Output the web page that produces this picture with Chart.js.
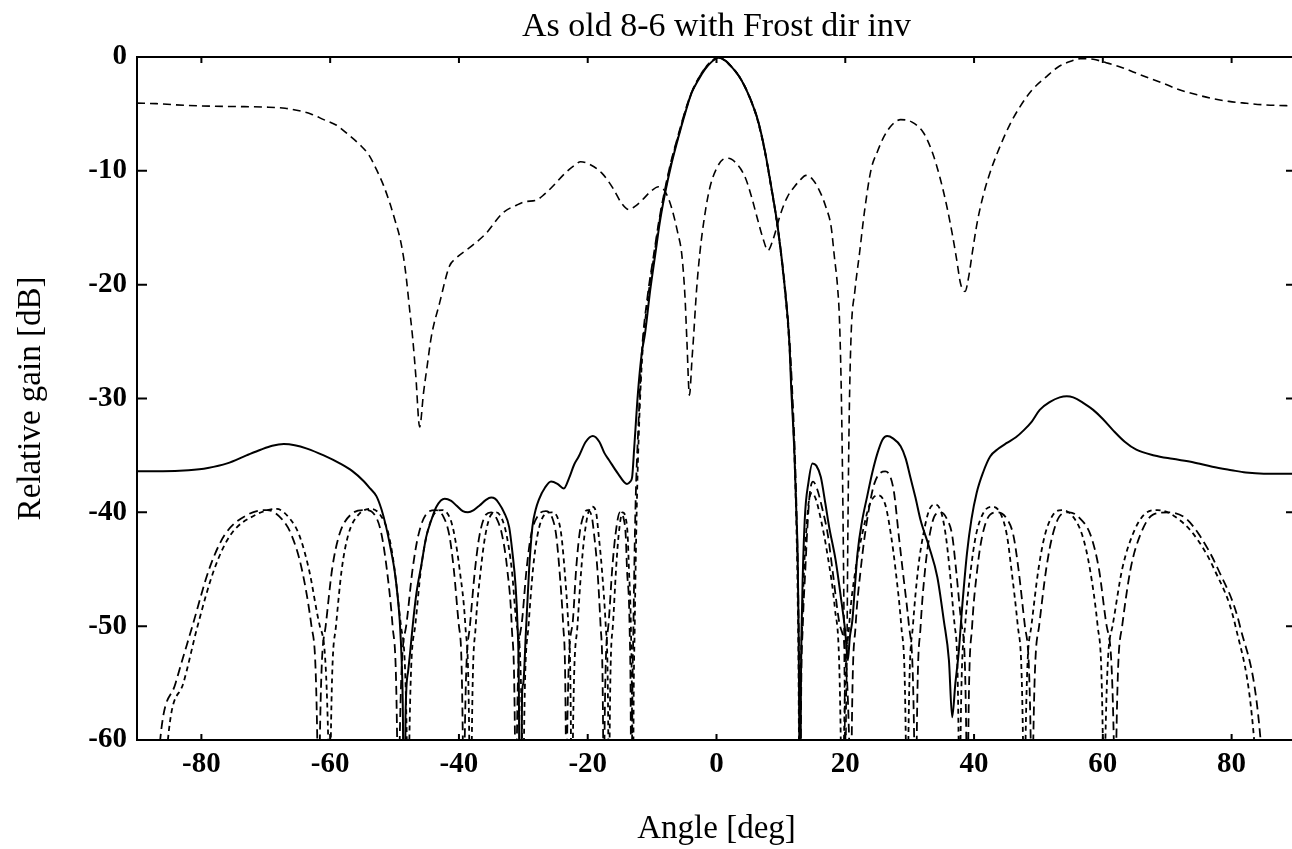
<!DOCTYPE html>
<html>
<head>
<meta charset="utf-8">
<script src="https://cdn.jsdelivr.net/npm/chart.js@4.4.0/dist/chart.umd.min.js"></script>
<style>
  html, body { margin: 0; padding: 0; background: #fff; overflow: hidden; }
  #wrap { width: 1310px; height: 849px; }
</style>
</head>
<body>
<div id="wrap"><canvas id="chart" width="1310" height="849"></canvas></div>
<script>
const xTicks = [-80, -60, -40, -20, 0, 20, 40, 60, 80];
const yTicks = [0, -10, -20, -30, -40, -50, -60];

// adapted pattern (solid)
const gainAdapted = [
  [-90,-36.4],[-86,-36.4],[-82,-36.3],[-79,-36.1],[-76,-35.7],[-73,-35.0],[-70.8,-34.5],[-69,-34.15],[-67.2,-34.0],
  [-65.5,-34.1],[-63.6,-34.4],[-61,-35.0],[-58.5,-35.7],[-56.5,-36.4],[-54.9,-37.2],[-53.8,-37.9],[-52.8,-38.6],
  [-52,-39.8],[-51.3,-41.3],[-50.6,-43.2],[-50.0,-45.1],[-49.5,-47.5],[-49.2,-49.5],[-48.9,-53],[-48.7,-58],[-48.5,-75],
  [-48.3,-58],[-47.9,-54],[-47.6,-52.4],[-47.1,-49.5],[-46.6,-47.1],[-45.8,-44.5],[-45.1,-42.2],[-44.3,-40.7],
  [-43.5,-39.5],[-42.2,-38.8],[-41.2,-39.0],[-40.4,-39.4],[-39.4,-39.9],[-38.6,-40.0],[-37.7,-39.8],[-36.8,-39.4],
  [-35.8,-38.9],[-35.0,-38.7],[-34.4,-38.8],[-33.8,-39.2],[-33.0,-40.0],[-32.2,-41.3],[-31.7,-43.5],[-31.2,-46.5],
  [-30.9,-50],[-30.7,-55],[-30.5,-75],[-30.2,-56],[-30.0,-55],[-29.6,-50.5],[-29.1,-45],[-28.6,-41.3],[-28.1,-39.8],
  [-27.6,-38.9],[-26.6,-37.8],[-25.7,-37.3],[-24.7,-37.5],[-23.7,-37.9],[-22.9,-37.0],[-22.1,-35.8],[-21.4,-35.1],
  [-20.3,-33.8],[-19.2,-33.3],[-18.2,-33.8],[-17.4,-34.8],[-16.7,-35.4],[-15.3,-36.6],[-13.9,-37.5],[-13.4,-37.3],
  [-13.1,-36.9],[-12.8,-34.5],[-12.6,-32.8],[-12.2,-29.5],[-11.6,-26.0],[-11.1,-24.3],[-10.3,-20.5],[-9.5,-17.3],
  [-8.8,-14.5],[-8.0,-12.0],[-7.0,-9.4],[-5.9,-7.0],[-4.9,-5.0],[-3.9,-3.2],[-2.8,-2.0],[-1.8,-1.1],[-0.8,-0.45],
  [0.3,-0.05],[1.3,-0.3],[2.3,-0.85],[3.4,-1.6],[4.4,-2.6],[5.4,-3.9],[6.4,-5.5],[7.5,-8.2],[8.5,-11.4],[9.5,-14.9],
  [10.6,-20.2],[11.3,-24.9],[11.6,-29],[12.1,-34.8],[12.4,-40],[12.6,-43.6],[12.75,-50],[12.85,-58],[12.95,-75],
  [13.1,-56],[13.3,-48],[13.7,-40.7],[14.3,-37.3],[14.9,-35.7],[15.5,-35.9],[16.2,-36.9],[16.9,-39.2],[17.5,-41.3],
  [18.5,-44.2],[19.3,-47.4],[20.0,-50.5],[20.4,-53],[20.7,-51],[21.1,-49.5],[21.5,-46.5],[21.9,-43.6],[22.6,-40.8],
  [23.4,-38.6],[24.2,-36.5],[25.0,-34.8],[25.8,-33.6],[26.5,-33.3],[27.4,-33.5],[28.6,-34.2],[29.4,-35.3],[30.1,-36.9],
  [30.9,-38.7],[31.7,-40.7],[33.0,-43.0],[34.3,-45.7],[35.3,-49.5],[36.1,-53.0],[36.6,-58],[37.1,-55],[37.6,-52.4],
  [38.2,-48],[38.9,-43.6],[39.6,-40.6],[40.4,-38.3],[41.4,-36.5],[42.5,-35.1],[43.8,-34.4],[45.1,-33.9],[46.5,-33.4],
  [47.7,-32.8],[49,-32.0],[50.2,-31.0],[51.8,-30.3],[53.3,-29.9],[54.4,-29.8],[55.4,-29.9],[57,-30.4],[58.5,-31.0],
  [60,-31.8],[61.6,-32.8],[63.4,-33.8],[65.2,-34.5],[68,-35.0],[70.8,-35.3],[74,-35.6],[77,-36.0],[80,-36.3],
  [82.2,-36.5],[85,-36.6],[90,-36.6]
];

// Frost direct inverse (upper dashed)
const gainFrost = [
  [-90,-4.05],[-87,-4.1],[-84,-4.2],[-80,-4.3],[-75,-4.35],[-70,-4.4],[-67,-4.5],[-65,-4.7],[-63,-5.0],[-61,-5.5],
  [-59,-6.0],[-57,-6.9],[-55.4,-7.7],[-54,-8.6],[-52.8,-9.9],[-51.7,-11.3],[-50.7,-12.9],[-49.9,-14.4],[-49.2,-15.8],
  [-48.6,-17.6],[-48.2,-19.3],[-47.6,-22.5],[-47.2,-24.6],[-46.7,-28],[-46.1,-32.5],[-45.5,-29.5],[-44.9,-27],
  [-44.3,-24.6],[-43,-21.6],[-41.5,-18.4],[-40.5,-17.7],[-38,-16.6],[-35.8,-15.5],[-33.2,-13.7],[-31,-13.0],
  [-29.6,-12.7],[-28.1,-12.6],[-26.8,-12.1],[-25.5,-11.4],[-23.5,-10.2],[-22,-9.5],[-21.1,-9.2],[-19.8,-9.4],
  [-17.8,-10.2],[-16,-11.6],[-14.8,-12.8],[-13.6,-13.4],[-12.6,-13.1],[-11.6,-12.6],[-10.2,-11.8],[-9.0,-11.4],
  [-8.0,-11.8],[-7.0,-13.2],[-6.0,-15.5],[-5.4,-17.3],[-4.9,-21],[-4.6,-24.9],[-4.2,-29.7],[-3.8,-26.5],[-3.6,-24.9],
  [-3.1,-20.5],[-2.6,-17.3],[-1.8,-13.8],[-1.0,-11.4],[0,-9.8],[1.0,-9.0],[1.8,-8.9],[3,-9.3],[4.4,-10.5],[5.4,-12.2],
  [6.4,-14.3],[7.2,-15.9],[8.0,-17.0],[8.8,-16.0],[10.0,-13.7],[11,-12.3],[12.1,-11.4],[13.0,-10.8],[13.9,-10.4],
  [15,-10.8],[16.2,-12.0],[17.0,-13.2],[17.8,-14.9],[18.3,-17.5],[18.8,-20.2],[19.1,-23.1],[19.4,-30],[19.6,-38],
  [19.75,-46],[19.85,-53],[19.95,-62],[20.0,-80],[20.1,-60],[20.25,-53],[20.4,-42],[20.6,-32],[20.9,-24.5],
  [21.5,-20.5],[22.2,-17.3],[23,-13.5],[24.0,-9.9],[25,-8.3],[26.0,-7.0],[27.2,-6.0],[28.6,-5.5],[30.3,-5.7],
  [32.2,-6.7],[33.6,-8.5],[34.8,-10.8],[35.8,-13.2],[36.6,-15.5],[37.3,-17.8],[37.9,-19.9],[38.6,-20.6],[39.2,-19.2],
  [39.7,-17.3],[40.5,-14.5],[41.5,-12.0],[42.7,-9.8],[44.0,-7.9],[45.5,-6.0],[47.1,-4.4],[49,-2.9],[51.3,-1.7],
  [53,-0.9],[54.9,-0.4],[56.5,-0.15],[58.5,-0.2],[60.5,-0.5],[62.6,-0.85],[66,-1.6],[69.3,-2.3],[72,-2.9],
  [74.5,-3.3],[77,-3.65],[79.6,-3.9],[82,-4.05],[85,-4.2],[90,-4.3]
];

// quiescent pattern, wider one
const gainQuiescentWide = [
  [-88,-75],
  [-86.4,-60],[-84,-55],[-81.4,-50],[-78.8,-45],[-76.4,-42],[-72.8,-40.2],[-69.8,-39.8],[-67.5,-40.6],[-66.0,-42],[-64.4,-45],[-62.9,-50],[-62.0,-60],[-61.8,-80],
  [-61.6,-60],[-60.7,-50],[-59.7,-45],[-58.6,-42],[-56.8,-40.2],[-54.6,-39.8],[-52.8,-40.5],[-52.0,-42],[-51.2,-45],[-50.3,-50],[-49.6,-60],[-49.4,-80],
  [-49.2,-60],[-48.2,-50],[-47.2,-45],[-46.3,-42],[-45.0,-40.1],[-43.6,-39.8],[-42.4,-40.4],[-41.5,-42],[-40.8,-45],[-40.0,-50],[-39.4,-60],[-39.3,-80],
  [-39.1,-60],[-38.3,-50],[-37.5,-45],[-36.8,-42],[-35.8,-40.2],[-35.0,-40.0],[-34.1,-40.6],[-33.3,-42],[-32.5,-45],[-31.8,-50],[-31.3,-60],[-31.1,-80],
  [-31.0,-60],[-30.3,-50],[-29.5,-45],[-28.8,-42],[-27.6,-40.2],[-26.5,-39.9],[-25.5,-40.5],[-24.9,-42],[-24.4,-45],[-23.8,-50],[-23.4,-60],[-23.3,-80],
  [-23.2,-60],[-22.4,-50],[-21.8,-45],[-21.3,-42],[-20.6,-40.2],[-20.1,-39.8],[-19.4,-40.3],[-19.0,-42],[-18.5,-45],[-18.0,-50],[-17.6,-60],[-17.5,-80],
  [-17.4,-60],[-16.8,-50],[-16.2,-45],[-15.7,-42],[-15.0,-40],[-14.4,-40.6],[-14.1,-42],[-13.9,-45],[-13.5,-50],[-13.3,-60],[-13.2,-80],
  [-13.1,-60],[-12.9,-50],[-12.6,-40],[-12.1,-32],[-11.6,-26],[-10.7,-21],[-9.8,-17.6],[-8.9,-14.3],[-8.1,-11.9],[-7.1,-9.3],
  [-6.0,-7.0],[-5.0,-5.0],[-4.0,-3.3],[-2.9,-2.0],[-1.9,-1.1],[-0.9,-0.45],[0.3,-0.05],[1.4,-0.3],[2.4,-0.9],[3.5,-1.7],
  [4.5,-2.7],[5.5,-4.0],[6.5,-5.7],[7.6,-8.5],[8.6,-11.7],[9.6,-15.3],[10.7,-20.6],[11.4,-25.4],[11.8,-29.8],[12.2,-35.3],
  [12.5,-41.5],[12.7,-47.5],[12.9,-60],[13.0,-80],
  [13.1,-60],[13.4,-50],[13.8,-45],[14.1,-41.5],[14.5,-38.3],[15.0,-37.3],[15.6,-37.9],[16.4,-39.6],[17.3,-42],[18.0,-45],[19.2,-50],[20.6,-60],[20.8,-80],
  [21.0,-60],[21.6,-50],[22.4,-45],[23.3,-41],[24.5,-37.5],[26.2,-36.4],[27.5,-38],[28.3,-42],[28.9,-45],[29.9,-50],[30.7,-60],[30.9,-80],
  [31.1,-60],[31.7,-50],[32.4,-45],[33.1,-42],[34.0,-40.2],[34.9,-40.0],[35.8,-40.6],[36.6,-42],[37.2,-45],[38.1,-50],[38.8,-60],[38.9,-80],
  [39.1,-60],[39.7,-50],[40.5,-45],[41.3,-42],[42.5,-40.2],[43.7,-40.0],[45.0,-40.5],[46.1,-42],[46.9,-45],[47.9,-50],[48.8,-60],[49.0,-80],
  [49.2,-60],[50.1,-50],[51.2,-45],[52.2,-42],[53.5,-40.2],[54.8,-40.0],[56.4,-40.5],[58.1,-42],[59.4,-45],[60.6,-50],[61.7,-60],[61.9,-80],
  [62.1,-60],[63.0,-50],[64.3,-45],[65.8,-42],[67.8,-40.2],[70.3,-40.0],[72.8,-40.5],[75.0,-42],[77.9,-45],[81.3,-50],[84.5,-60],[85.5,-70]
];

// quiescent pattern, narrower one
const gainQuiescentNarrow = [
  [-86.5,-75],
  [-85.2,-60],[-82.8,-55],[-80.6,-50],[-78,-45],[-75.5,-42],[-71.5,-40.2],[-68.3,-39.7],[-66.2,-40.6],[-64.8,-42],[-63.3,-45],[-61.6,-50],[-60.3,-60],[-60.1,-80],
  [-59.9,-60],[-59.1,-50],[-58.2,-45],[-57.2,-42],[-55.6,-40.2],[-53.6,-39.7],[-51.9,-40.5],[-50.9,-42],[-50.0,-45],[-49.0,-50],[-48.1,-60],[-47.9,-80],
  [-47.7,-60],[-46.8,-50],[-45.9,-45],[-45.0,-42],[-43.8,-40.1],[-42.6,-39.8],[-41.4,-40.5],[-40.7,-42],[-39.9,-45],[-39.0,-50],[-38.4,-60],[-38.2,-80],
  [-38.0,-60],[-37.4,-50],[-36.6,-45],[-35.9,-42],[-35.0,-40.2],[-34.2,-40.0],[-33.3,-40.6],[-32.6,-42],[-31.8,-45],[-31.0,-50],[-30.2,-60],[-30.1,-80],
  [-29.9,-60],[-29.2,-50],[-28.5,-45],[-27.8,-42],[-26.7,-40.2],[-25.6,-40.0],[-24.6,-40.6],[-24.1,-42],[-23.6,-45],[-23.0,-50],[-22.6,-60],[-22.5,-80],
  [-22.3,-60],[-21.6,-50],[-21.0,-45],[-20.5,-42],[-19.9,-40],[-19.3,-39.5],[-18.7,-40],[-18.3,-42],[-17.8,-45],[-17.2,-50],[-16.8,-60],[-16.7,-80],
  [-16.6,-60],[-16.1,-50],[-15.6,-45],[-15.2,-42],[-14.6,-40],[-14.1,-40.5],[-13.8,-42],[-13.6,-45],[-13.3,-50],[-13.1,-60],[-13.0,-80],
  [-12.9,-60],[-12.7,-50],[-12.4,-40],[-12.0,-32],[-11.5,-26],[-10.6,-21],[-9.7,-17.5],[-8.8,-14.2],[-8.0,-11.8],[-7.0,-9.2],
  [-5.9,-6.9],[-4.9,-4.9],[-3.9,-3.2],[-2.8,-1.9],[-1.8,-1.0],[-0.8,-0.4],[0.3,-0.05],[1.3,-0.3],[2.3,-0.85],[3.4,-1.6],
  [4.4,-2.6],[5.4,-3.9],[6.4,-5.6],[7.5,-8.3],[8.5,-11.5],[9.5,-15.0],[10.6,-20.4],[11.3,-25.2],[11.7,-29.5],[12.1,-35],
  [12.4,-41],[12.6,-47],[12.8,-60],[12.9,-80],
  [13.0,-60],[13.3,-50],[13.6,-45],[13.9,-42],[14.3,-39.2],[14.8,-38.3],[15.4,-38.8],[16.2,-40.6],[17.2,-43.6],[18.4,-48.5],[19.3,-60],[19.5,-80],
  [19.8,-60],[20.6,-50],[21.6,-45],[22.6,-42],[23.8,-39.3],[25.0,-38.5],[26.2,-39.3],[27.1,-42],[27.8,-45],[28.7,-50],[29.4,-60],[29.6,-80],
  [29.8,-60],[30.5,-50],[31.3,-45],[32.1,-42],[33.1,-39.7],[34.0,-39.3],[34.9,-40.0],[35.6,-42],[36.2,-45],[37.0,-50],[37.6,-60],[37.7,-80],
  [37.9,-60],[38.6,-50],[39.5,-45],[40.3,-42],[41.5,-40],[42.8,-39.5],[44.1,-40.1],[45.1,-42],[45.8,-45],[46.8,-50],[47.6,-60],[47.8,-80],
  [48.0,-60],[48.9,-50],[50.0,-45],[51.0,-42],[52.3,-40.2],[53.6,-39.8],[55.1,-40.2],[56.8,-42],[58.0,-45],[59.2,-50],[60.0,-60],[60.2,-80],
  [60.4,-60],[61.5,-50],[63.0,-45],[64.6,-42],[66.4,-40.2],[68.5,-39.8],[71.0,-40.3],[74.2,-42],[77.3,-45],[80.6,-50],[83.5,-60],[84.5,-70]
];

const serif = "'Liberation Serif', 'Times New Roman', serif";
const toXY = arr => arr.map(p => ({ x: p[0], y: p[1] }));

// box round the plot with inward ticks on all four sides
const framePlugin = {
  id: 'frame',
  afterDatasetsDraw(chart) {
    const { ctx, chartArea: a, scales } = chart;
    ctx.save();
    ctx.strokeStyle = '#000';
    ctx.lineWidth = 2;
    ctx.strokeRect(a.left, a.top, a.right - a.left, a.bottom - a.top);
    ctx.beginPath();
    xTicks.forEach(v => {
      const px = scales.x.getPixelForValue(v);
      ctx.moveTo(px, a.bottom); ctx.lineTo(px, a.bottom - 6);
      ctx.moveTo(px, a.top); ctx.lineTo(px, a.top + 6);
    });
    yTicks.forEach(v => {
      const py = scales.y.getPixelForValue(v);
      ctx.moveTo(a.left, py); ctx.lineTo(a.left + 10, py);
      ctx.moveTo(a.right, py); ctx.lineTo(a.right - 10, py);
    });
    ctx.stroke();
    ctx.restore();
  }
};

new Chart(document.getElementById('chart'), {
  type: 'line',
  data: {
    datasets: [
      { label: 'Adapted', data: toXY(gainAdapted), borderColor: '#000', borderWidth: 2, borderDash: [] },
      { label: 'Frost dir inv', data: toXY(gainFrost), borderColor: '#000', borderWidth: 1.6, borderDash: [8, 5] },
      { label: 'Quiescent 1', data: toXY(gainQuiescentWide), borderColor: '#000', borderWidth: 1.8, borderDash: [9, 5] },
      { label: 'Quiescent 2', data: toXY(gainQuiescentNarrow), borderColor: '#000', borderWidth: 1.8, borderDash: [5, 4] }
    ]
  },
  options: {
    responsive: false,
    animation: false,
    layout: { padding: { left: 0, right: 14, top: 0, bottom: 0 } },
    elements: {
      point: { radius: 0 },
      line: { cubicInterpolationMode: 'monotone', fill: false }
    },
    plugins: {
      legend: { display: false },
      tooltip: { enabled: false },
      title: { display: false }
    },
    scales: {
      x: {
        type: 'linear',
        min: -90,
        max: 90,
        grid: { display: false, drawTicks: false },
        border: { display: false },
        afterBuildTicks: s => { s.ticks = xTicks.map(v => ({ value: v })); },
        afterFit: s => { s.height = 109; },
        ticks: {
          color: '#000',
          padding: 7,
          maxRotation: 0,
          autoSkip: false,
          font: { family: serif, size: 29, weight: 'bold' }
        },
        title: {
          display: true,
          text: 'Angle [deg]',
          color: '#000',
          font: { family: serif, size: 33 },
          padding: { top: 0, bottom: 0 }
        }
      },
      // top axis only carries the chart title, so it centres over the plot
      top: {
        type: 'linear',
        position: 'top',
        min: -90,
        max: 90,
        grid: { display: false, drawTicks: false },
        border: { display: false },
        ticks: { display: false },
        afterFit: s => { s.height = 57; },
        title: {
          display: true,
          text: 'As old 8-6 with Frost dir inv',
          color: '#000',
          font: { family: serif, size: 34 },
          padding: { top: 7, bottom: 0 }
        }
      },
      y: {
        min: -60,
        max: 0,
        grid: { display: false, drawTicks: false },
        border: { display: false },
        afterBuildTicks: s => { s.ticks = yTicks.map(v => ({ value: v })); },
        afterFit: s => { s.width = 137; },
        ticks: {
          color: '#000',
          padding: 10,
          autoSkip: false,
          font: { family: serif, size: 29, weight: 'bold' }
        },
        title: {
          display: true,
          text: 'Relative gain [dB]',
          color: '#000',
          font: { family: serif, size: 33 },
          padding: { top: 12, bottom: 0 }
        }
      }
    }
  },
  plugins: [framePlugin]
});
</script>
</body>
</html>
